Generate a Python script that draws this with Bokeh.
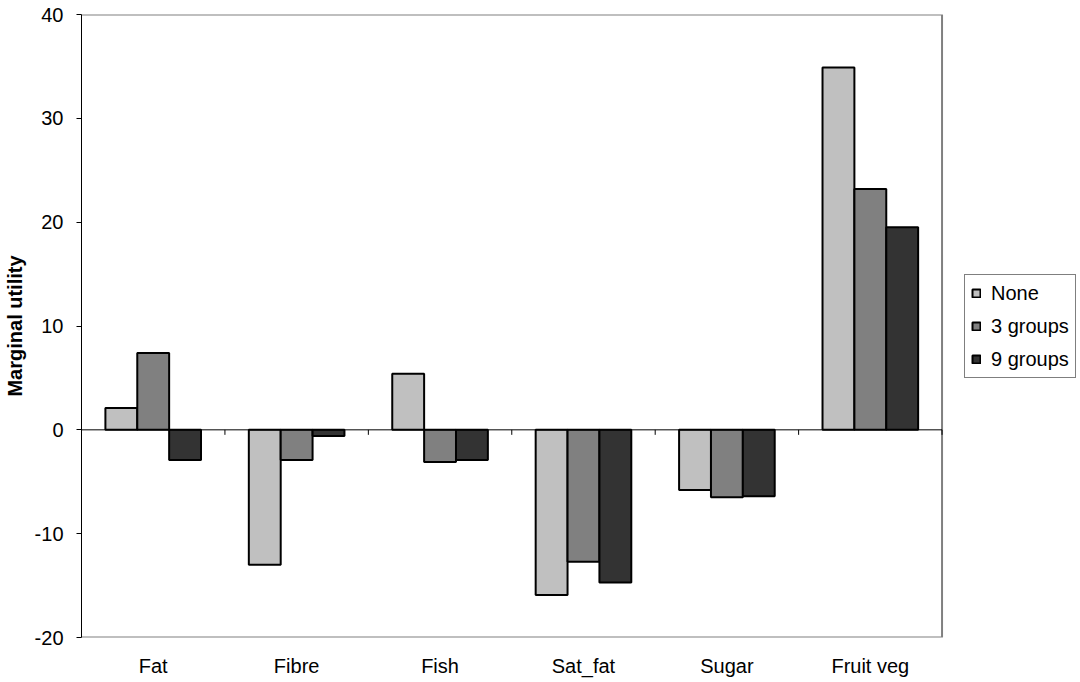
from bokeh.plotting import figure
from bokeh.models import Legend, LegendItem, FixedTicker, Range1d, ColumnDataSource
from bokeh.embed import file_html
from bokeh.resources import INLINE

categories = ["Fat", "Fibre", "Fish", "Sat_fat", "Sugar", "Fruit veg"]
series_names = ["None", "3 groups", "9 groups"]
none_vals = [2.1, -13.0, 5.4, -15.9, -5.8, 34.9]
g3_vals = [7.4, -2.9, -3.1, -12.7, -6.5, 23.2]
g9_vals = [-2.9, -0.6, -2.9, -14.7, -6.4, 19.5]
y_ticks = [-20, -10, 0, 10, 20, 30, 40]

colors = ["#C0C0C0", "#808080", "#333333"]
FONT = "Liberation Sans"

n = len(categories)
y_min, y_max = min(y_ticks), max(y_ticks)
bar_w = 1.0 / 4.5
offsets = [-bar_w, 0.0, bar_w]

# layout: plot area 864px wide, drawing frame extended to the figure's right edge
FIG_W, FIG_H = 1076, 680
LEFT, TOP, BOTTOM = 77, 14, 43
PLOT_W = 864
FRAME_W = FIG_W - LEFT
x_end = n * FRAME_W / PLOT_W

p = figure(width=FIG_W, height=FIG_H,
           x_range=Range1d(0, x_end), y_range=Range1d(y_min, y_max),
           output_backend="svg", toolbar_location=None,
           min_border_left=LEFT, min_border_right=0,
           min_border_top=TOP, min_border_bottom=BOTTOM)

p.background_fill_color = "white"
p.border_fill_color = "white"
p.outline_line_color = None
p.xgrid.visible = False
p.ygrid.visible = False

# plot-area border (top, right, bottom) in grey
p.line(x=[0, n, n, 0], y=[y_max, y_max, y_min, y_min], line_color="#808080", line_width=2)

renderers = []
for vals, off, col in zip([none_vals, g3_vals, g9_vals], offsets, colors):
    src = ColumnDataSource(dict(x=[i + 0.5 + off for i in range(n)], top=vals))
    r = p.vbar(x="x", top="top", bottom=0, width=bar_w, source=src,
               fill_color=col, line_color="black", line_width=2)
    renderers.append(r)

# zero line with category boundary ticks
p.line(x=[0, n], y=[0, 0], line_color="black", line_width=1)
bounds = list(range(n + 1))
p.ray(x=bounds, y=[0] * len(bounds), length=5, angle=-1.5707963267948966,
      length_units="screen", line_color="black", line_width=1)

# y axis
ya = p.yaxis[0]
ya.ticker = FixedTicker(ticks=y_ticks)
ya.major_label_overrides = {t: str(t) for t in y_ticks}
ya.major_tick_out = 5
ya.major_tick_in = 0
ya.minor_tick_line_color = None
ya.axis_line_color = "black"
ya.axis_line_width = 1
ya.major_tick_line_color = "black"
ya.major_label_standoff = 13
ya.major_label_text_font = FONT
ya.major_label_text_font_size = "20px"
ya.major_label_text_color = "black"
ya.axis_label = "Marginal utility"
ya.axis_label_text_font = FONT
ya.axis_label_text_font_size = "20px"
ya.axis_label_text_font_style = "bold"
ya.axis_label_text_color = "black"
ya.axis_label_standoff = 6

# x axis (category labels only)
xa = p.xaxis[0]
xa.ticker = FixedTicker(ticks=[i + 0.5 for i in range(n)])
xa.major_label_overrides = {i + 0.5: c for i, c in enumerate(categories)}
xa.axis_line_color = None
xa.major_tick_line_color = None
xa.minor_tick_line_color = None
xa.major_tick_out = 0
xa.major_tick_in = 0
xa.major_label_standoff = 17
xa.major_label_text_font = FONT
xa.major_label_text_font_size = "20px"
xa.major_label_text_color = "black"

legend = Legend(items=[LegendItem(label=nm, renderers=[r]) for nm, r in zip(series_names, renderers)],
                location=(PLOT_W + 19, 259))
legend.border_line_color = "black"
legend.border_line_width = 1
legend.background_fill_color = "white"
legend.background_fill_alpha = 1
legend.padding = 6
legend.spacing = 9
legend.margin = 0
legend.glyph_width = 10
legend.glyph_height = 10
legend.label_standoff = 10
legend.label_height = 24
legend.label_text_font = FONT
legend.label_text_font_size = "20px"
legend.label_text_color = "black"
p.add_layout(legend)

open("out.html", "w").write(file_html(p, INLINE))
